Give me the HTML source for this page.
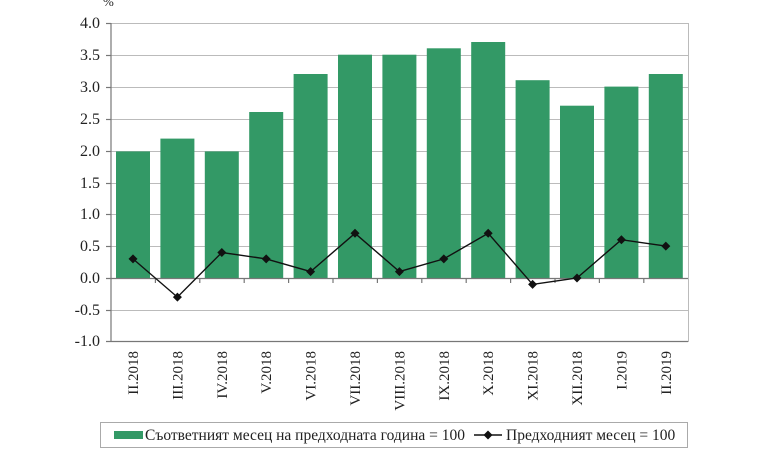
<!DOCTYPE html><html><head><style>body{margin:0;background:#fff}</style></head><body>
<svg width="768" height="456" xmlns="http://www.w3.org/2000/svg" font-family="Liberation Serif, serif" font-size="14" fill="#222">
<g stroke="#bbb" stroke-width="1">
<line x1="111" x2="688" y1="23.5" y2="23.5"/><line x1="111" x2="688" y1="55.5" y2="55.5"/><line x1="111" x2="688" y1="87.5" y2="87.5"/><line x1="111" x2="688" y1="119.5" y2="119.5"/><line x1="111" x2="688" y1="151.5" y2="151.5"/><line x1="111" x2="688" y1="183.5" y2="183.5"/><line x1="111" x2="688" y1="214.5" y2="214.5"/><line x1="111" x2="688" y1="246.5" y2="246.5"/><line x1="111" x2="688" y1="310.5" y2="310.5"/>
<line x1="688.5" x2="688.5" y1="23" y2="342"/>
</g>
<g fill="#339966">
<rect x="116" y="151.4" width="34" height="126.6"/><rect x="160.4" y="138.6" width="34" height="139.4"/><rect x="204.8" y="151.4" width="34" height="126.6"/><rect x="249.2" y="112" width="34" height="166"/><rect x="293.6" y="74" width="34" height="204"/><rect x="338" y="54.7" width="34" height="223.3"/><rect x="382.4" y="54.7" width="34" height="223.3"/><rect x="426.8" y="48.3" width="34" height="229.7"/><rect x="471.2" y="42" width="34" height="236"/><rect x="515.6" y="80.2" width="34" height="197.8"/><rect x="560" y="105.7" width="34" height="172.3"/><rect x="604.4" y="86.6" width="34" height="191.4"/><rect x="648.8" y="74" width="34" height="204"/>
</g>
<g stroke="#777" stroke-width="1.2">
<line x1="111" x2="111" y1="23" y2="342"/><line x1="106" x2="688" y1="278.5" y2="278.5"/><line x1="106" x2="688" y1="341.5" y2="341.5"/>
<line x1="106" x2="111" y1="23.5" y2="23.5"/><line x1="106" x2="111" y1="55.5" y2="55.5"/><line x1="106" x2="111" y1="87.5" y2="87.5"/><line x1="106" x2="111" y1="119.5" y2="119.5"/><line x1="106" x2="111" y1="151.5" y2="151.5"/><line x1="106" x2="111" y1="183.5" y2="183.5"/><line x1="106" x2="111" y1="214.5" y2="214.5"/><line x1="106" x2="111" y1="246.5" y2="246.5"/><line x1="106" x2="111" y1="310.5" y2="310.5"/>
<line x1="155.4" x2="155.4" y1="278" y2="283"/><line x1="199.8" x2="199.8" y1="278" y2="283"/><line x1="244.2" x2="244.2" y1="278" y2="283"/><line x1="288.6" x2="288.6" y1="278" y2="283"/><line x1="333" x2="333" y1="278" y2="283"/><line x1="377.4" x2="377.4" y1="278" y2="283"/><line x1="421.8" x2="421.8" y1="278" y2="283"/><line x1="466.2" x2="466.2" y1="278" y2="283"/><line x1="510.6" x2="510.6" y1="278" y2="283"/><line x1="555" x2="555" y1="278" y2="283"/><line x1="599.4" x2="599.4" y1="278" y2="283"/><line x1="643.8" x2="643.8" y1="278" y2="283"/>
</g>
<polyline fill="none" stroke="#111" stroke-width="1.4" points="133,258.9 177.4,297.1 221.8,252.5 266.2,258.9 310.6,271.6 355,233.3 399.4,271.6 443.8,258.9 488.2,233.3 532.6,284.4 577,278 621.4,239.7 665.8,246.1"/>
<g fill="#111">
<path d="M133 254.4l4.5 4.5-4.5 4.5-4.5-4.5z"/><path d="M177.4 292.6l4.5 4.5-4.5 4.5-4.5-4.5z"/><path d="M221.8 248l4.5 4.5-4.5 4.5-4.5-4.5z"/><path d="M266.2 254.4l4.5 4.5-4.5 4.5-4.5-4.5z"/><path d="M310.6 267.1l4.5 4.5-4.5 4.5-4.5-4.5z"/><path d="M355 228.8l4.5 4.5-4.5 4.5-4.5-4.5z"/><path d="M399.4 267.1l4.5 4.5-4.5 4.5-4.5-4.5z"/><path d="M443.8 254.4l4.5 4.5-4.5 4.5-4.5-4.5z"/><path d="M488.2 228.8l4.5 4.5-4.5 4.5-4.5-4.5z"/><path d="M532.6 279.9l4.5 4.5-4.5 4.5-4.5-4.5z"/><path d="M577 273.5l4.5 4.5-4.5 4.5-4.5-4.5z"/><path d="M621.4 235.2l4.5 4.5-4.5 4.5-4.5-4.5z"/><path d="M665.8 241.6l4.5 4.5-4.5 4.5-4.5-4.5z"/>
</g>
<g text-anchor="end" font-size="16">
<text x="100" y="28">4.0</text><text x="100" y="60">3.5</text><text x="100" y="92">3.0</text><text x="100" y="124">2.5</text><text x="100" y="156">2.0</text><text x="100" y="188">1.5</text><text x="100" y="219">1.0</text><text x="100" y="251">0.5</text><text x="100" y="283">0.0</text><text x="100" y="315">-0.5</text><text x="100" y="346">-1.0</text>
</g>
<text x="103" y="6" font-size="13">%</text>
<g text-anchor="end" font-size="15">
<text transform="translate(138,351) rotate(-90)">II.2018</text>
<text transform="translate(182.4,351) rotate(-90)">III.2018</text>
<text transform="translate(226.8,351) rotate(-90)">IV.2018</text>
<text transform="translate(271.2,351) rotate(-90)">V.2018</text>
<text transform="translate(315.6,351) rotate(-90)">VI.2018</text>
<text transform="translate(360,351) rotate(-90)">VII.2018</text>
<text transform="translate(404.4,351) rotate(-90)">VIII.2018</text>
<text transform="translate(448.8,351) rotate(-90)">IX.2018</text>
<text transform="translate(493.2,351) rotate(-90)">X.2018</text>
<text transform="translate(537.6,351) rotate(-90)">XI.2018</text>
<text transform="translate(582,351) rotate(-90)">XII.2018</text>
<text transform="translate(626.4,351) rotate(-90)">I.2019</text>
<text transform="translate(670.8,351) rotate(-90)">II.2019</text>
</g>
<rect x="100.5" y="422.5" width="587" height="25" fill="none" stroke="#aaa"/>
<rect x="114" y="431" width="29" height="8" fill="#339966"/>
<text x="145" y="440" font-size="15.5">Съответният месец на предходната година = 100</text>
<line x1="474" x2="502" y1="435" y2="435" stroke="#111" stroke-width="1.4"/>
<path d="M488 430.5l4.5 4.5-4.5 4.5-4.5-4.5z" fill="#111"/>
<text x="506" y="440" font-size="15.5">Предходният месец = 100</text>
</svg>
</body></html>
